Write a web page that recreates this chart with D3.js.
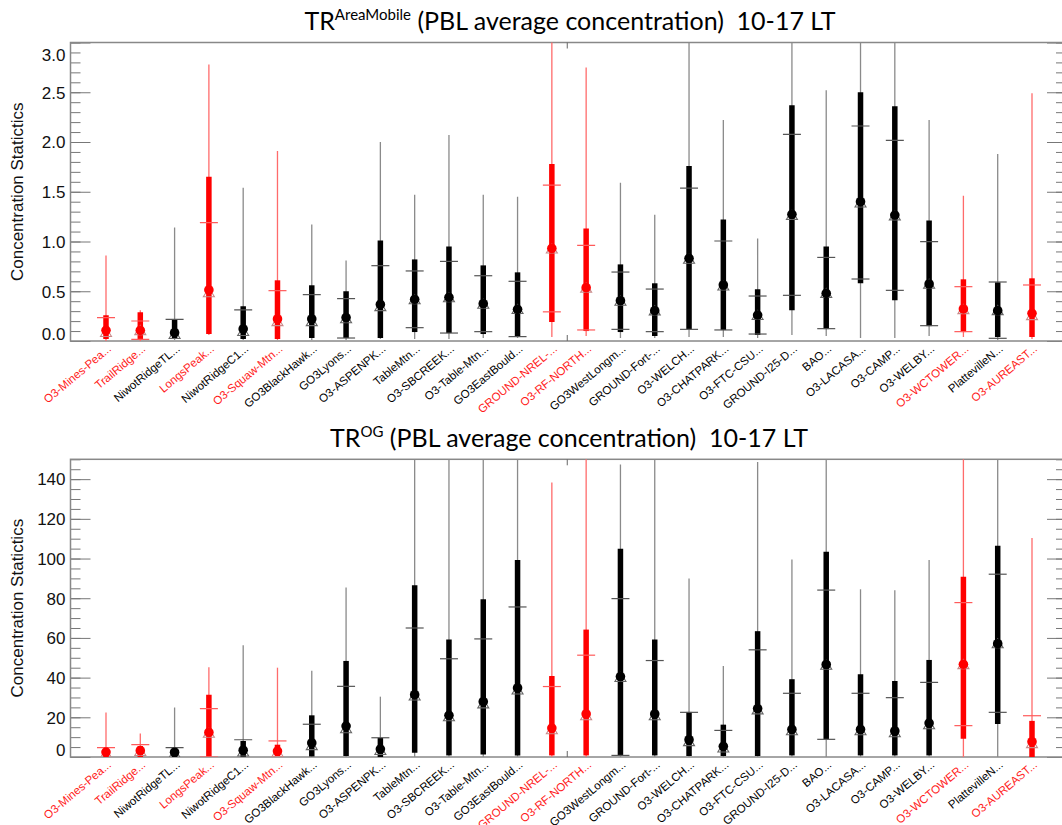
<!DOCTYPE html>
<html lang="en">
<head>
<meta charset="utf-8">
<title>TR PBL average concentration statistics</title>
<script src="https://d3js.org/d3.v7.min.js"></script>
<style>
  body { margin: 0; background: #fff; }
  svg { display: block; }
  .title { font-family: Lato, "Open Sans", sans-serif; font-size: 25px; fill: #000; white-space: pre; }
  .ylab { font-family: "Liberation Sans", Arial, sans-serif; font-size: 17px; fill: #111; }
  .xlab { font-family: "Liberation Sans", Arial, sans-serif; font-size: 11.5px; }
</style>
</head>
<body>
<div id="chart"></div>
<script>
// station labels as printed under the axis (truncated)
var stations = ["O3-Mines-Pea...", "TrailRidge...", "NiwotRidgeTL...", "LongsPeak...", "NiwotRidgeC1...",
  "O3-Squaw-Mtn...", "GO3BlackHawk...", "GO3Lyons...", "O3-ASPENPK...", "TableMtn...", "O3-SBCREEK...",
  "O3-Table-Mtn...", "GO3EastBould...", "GROUND-NREL-...", "O3-RF-NORTH...", "GO3WestLongm...",
  "GROUND-Fort-...", "O3-WELCH...", "O3-CHATPARK...", "O3-FTC-CSU...", "GROUND-I25-D...", "BAO...",
  "O3-LACASA...", "O3-CAMP...", "O3-WELBY...", "O3-WCTOWER...", "PlattevilleN...", "O3-AUREAST..."];

// stations drawn in red
var redStations = ["O3-Mines-Pea...", "TrailRidge...", "LongsPeak...", "O3-Squaw-Mtn...",
  "GROUND-NREL-...", "O3-RF-NORTH...", "O3-WCTOWER...", "O3-AUREAST..."];

// TR AreaMobile panel
var amMax    = [0.86, 0.31, 1.14, 2.78, 1.54, 1.91, 1.17, 0.81, 2.00, 1.47, 2.07, 1.47, 1.45, 3.50, 2.75, 1.59, 1.27, 3.50, 2.22, 1.03, 3.50, 2.52, 3.50, 3.50, 2.22, 1.46, 1.88, 2.49];
var amMin    = [0.00, 0.00, 0.01, 0.06, 0.01, 0.01, 0.01, 0.01, 0.02, 0.02, 0.02, 0.03, 0.03, 0.04, 0.05, 0.03, 0.03, 0.04, 0.04, 0.03, 0.06, 0.05, 0.03, 0.03, 0.05, 0.04, 0.01, 0.02];
var amLo     = [0.02, 0.01, 0.02, 0.07, 0.02, 0.02, 0.03, 0.03, 0.03, 0.09, 0.08, 0.07, 0.05, 0.19, 0.10, 0.09, 0.05, 0.12, 0.11, 0.06, 0.31, 0.12, 0.58, 0.41, 0.15, 0.09, 0.04, 0.04];
var amHi     = [0.26, 0.29, 0.22, 1.65, 0.35, 0.61, 0.56, 0.50, 1.01, 0.82, 0.95, 0.76, 0.69, 1.78, 1.13, 0.77, 0.58, 1.76, 1.22, 0.52, 2.37, 0.95, 2.50, 2.36, 1.21, 0.62, 0.59, 0.63];
var amMedian = [0.107, 0.107, 0.084, 0.513, 0.121, 0.221, 0.221, 0.235, 0.368, 0.419, 0.439, 0.375, 0.318, 0.931, 0.536, 0.405, 0.305, 0.831, 0.563, 0.261, 1.273, 0.479, 1.400, 1.266, 0.573, 0.322, 0.305, 0.278];
var amMean   = [0.090, 0.109, 0.070, 0.490, 0.100, 0.200, 0.200, 0.228, 0.350, 0.419, 0.440, 0.375, 0.322, 0.930, 0.536, 0.405, 0.308, 0.827, 0.558, 0.261, 1.268, 0.482, 1.392, 1.263, 0.576, 0.320, 0.310, 0.260];
var amSd     = [0.145, 0.092, 0.148, 0.700, 0.212, 0.306, 0.266, 0.198, 0.407, 0.285, 0.360, 0.281, 0.278, 0.637, 0.425, 0.288, 0.214, 0.710, 0.447, 0.191, 0.809, 0.358, 0.769, 0.754, 0.422, 0.226, 0.283, 0.303];

// TR OG panel
var ogMax    = [22.4, 11.9, 24.9, 45.2, 56.3, 45.0, 43.4, 85.4, 30.4, 170, 170, 170, 170, 138.3, 170, 147.4, 170, 89.9, 45.9, 148.7, 99.5, 170, 84.5, 84.0, 99.2, 170, 170, 110.4];
var ogMin    = [0, 0, 0, 0, 0, 0, 0, 0, 0, 0, 0, 0, 0, 0, 0, 0, 0, 0, 0, 0, 0, 0, 0, 0, 0, 0, 0, 0];
var ogLo     = [0, 0, 0, 0.3, 0, 0, 0.3, 0.5, 0, 2.2, 0.8, 1.3, 0.8, 0.8, 0.8, 0.8, 0.8, 0.5, 0.5, 0.5, 0.8, 8.9, 0.8, 0.8, 0.8, 9.2, 16.6, 0];
var ogHi     = [4.2, 5.5, 4.2, 31.4, 8.1, 6.2, 21.0, 48.4, 9.6, 86.6, 59.2, 79.5, 99.3, 40.8, 64.2, 104.9, 59.2, 22.7, 16.3, 63.4, 39.2, 103.4, 41.7, 38.3, 48.9, 90.8, 106.4, 18.2];
var ogMedian = [2.5, 3.2, 2.4, 12.4, 3.4, 3.0, 7.1, 15.6, 4.0, 31.4, 21.0, 27.9, 34.8, 14.6, 21.7, 40.5, 21.7, 8.7, 5.4, 24.4, 13.9, 46.6, 13.9, 13.1, 17.1, 46.7, 57.1, 7.7];
var ogMean   = [2.0, 3.0, 2.0, 12.2, 2.8, 2.5, 6.0, 14.5, 3.5, 31.0, 20.5, 27.0, 34.0, 14.0, 21.0, 40.3, 21.0, 8.0, 4.8, 24.0, 13.5, 46.5, 13.5, 12.5, 16.5, 46.8, 57.3, 7.0];
var ogSd     = [2.7, 3.2, 2.7, 12.2, 5.9, 5.6, 10.5, 21.1, 6.2, 34.0, 29.0, 32.5, 41.6, 21.5, 30.3, 39.5, 27.6, 14.5, 8.6, 30.0, 18.6, 37.6, 18.6, 17.4, 21.1, 31.0, 34.8, 13.8];

var W = 1062, H = 825;
var frameLeft = 70.5, frameRight = 1064;

var svg = d3.select("#chart")
  .append("svg")
    .attr("width", W)
    .attr("height", H);

var x = d3.scalePoint()
  .domain(stations)
  .range([106, 1032]);

function isRed(s) { return redStations.indexOf(s) >= 0; }

function greyTicks(g) {
  g.select(".domain").remove();
  g.selectAll("line").attr("stroke", "#777");
}

function drawPanel(p) {
  var y = d3.scaleLinear().domain(p.domain).range([p.bottom, p.top]);

  var rows = stations.map(function(s, i) {
    return {name: s, max: p.max[i], min: p.min[i], lo: p.lo[i], hi: p.hi[i],
            med: p.median[i], mean: p.mean[i], sd: p.sd[i], red: isRed(s)};
  });

  // title with superscript
  var t = svg.append("text")
    .attr("class", "title")
    .attr("x", p.titleX)
    .attr("y", p.titleY)
    .attr("text-anchor", "middle");
  t.append("tspan").text("TR");
  t.append("tspan").attr("font-size", 15).attr("dy", -10).text(p.sup);
  t.append("tspan").attr("dy", 10).text(" (PBL average concentration)  10-17 LT");

  // y label
  svg.append("text")
    .attr("class", "ylab")
    .attr("text-anchor", "middle")
    .attr("transform", "translate(23," + ((p.top + p.bottom) / 2) + ") rotate(-90)")
    .text("Concentration Statictics");

  var majors = d3.range(0, Math.floor(p.domain[1] / p.major + 1e-6) + 1).map(function(k) { return +(k * p.major).toFixed(3); });
  var minors = d3.range(0, Math.floor(p.domain[1] / p.minor + 1e-6) + 1).map(function(k) { return +(k * p.minor).toFixed(3); });

  // inward ticks, left and right
  svg.append("g")
    .attr("transform", "translate(" + frameLeft + ",0)")
    .call(d3.axisRight(y).tickValues(minors).tickSize(10).tickFormat(""))
    .call(greyTicks);
  svg.append("g")
    .attr("transform", "translate(" + frameLeft + ",0)")
    .call(d3.axisRight(y).tickValues(majors).tickSize(20).tickFormat(""))
    .call(greyTicks);
  svg.append("g")
    .attr("transform", "translate(" + frameRight + ",0)")
    .call(d3.axisLeft(y).tickValues(minors).tickSize(8).tickFormat(""))
    .call(greyTicks);
  svg.append("g")
    .attr("transform", "translate(" + frameRight + ",0)")
    .call(d3.axisLeft(y).tickValues(majors).tickSize(17).tickFormat(""))
    .call(greyTicks);

  // tick labels, end labels pulled inside the frame
  svg.append("g")
    .attr("transform", "translate(" + frameLeft + ",0)")
    .call(d3.axisLeft(y).tickValues(p.labels).tickSize(0).tickPadding(5).tickFormat(p.fmt))
    .call(function(g) {
      g.select(".domain").remove();
      g.selectAll("text")
        .attr("font-family", "'Liberation Sans', Arial, sans-serif")
        .attr("font-size", 17)
        .attr("fill", "#111")
        .attr("dy", function(v) { return v === p.domain[1] ? "1.05em" : v === p.domain[0] ? "-0.07em" : "0.34em"; });
    });

  // frame (right edge lies just off the page)
  svg.append("rect")
    .attr("x", frameLeft).attr("y", p.top)
    .attr("width", frameRight - frameLeft).attr("height", p.bottom - p.top)
    .attr("fill", "none").attr("stroke", "#888").attr("stroke-width", 1.5);

  // the single centre tick on the x axis
  var midX = (frameLeft + frameRight) / 2;
  svg.append("line").attr("x1", midX).attr("x2", midX).attr("y1", p.top).attr("y2", p.top + 6).attr("stroke", "#666");
  svg.append("line").attr("x1", midX).attr("x2", midX).attr("y1", p.bottom).attr("y2", p.bottom - 6).attr("stroke", "#666");

  var clipId = "clip" + p.id;
  svg.append("clipPath").attr("id", clipId)
    .append("rect")
      .attr("x", frameLeft).attr("y", p.top)
      .attr("width", frameRight - frameLeft).attr("height", p.bottom - p.top);

  var g = svg.append("g").attr("clip-path", "url(#" + clipId + ")");

  var st = g.selectAll(".st")
    .data(rows)
    .enter()
    .append("g")
      .attr("class", "st")
      .attr("transform", function(d) { return "translate(" + x(d.name) + ",0)"; });

  // thin range line
  st.append("line")
    .attr("y1", function(d) { return y(d.min); })
    .attr("y2", function(d) { return y(d.max); })
    .attr("stroke", function(d) { return d.red ? "#ff6b6b" : "#8a8a8a"; })
    .attr("stroke-width", 1.3);

  // thick inner range
  st.append("line")
    .attr("y1", function(d) { return y(d.lo); })
    .attr("y2", function(d) { return y(d.hi); })
    .attr("stroke", function(d) { return d.red ? "#ff0000" : "#000"; })
    .attr("stroke-width", 5.5);

  // mean +/- sd ticks
  st.selectAll(".sdt")
    .data(function(d) {
      return [d.mean + d.sd, d.mean - d.sd]
        .filter(function(v) { return v >= p.domain[0]; })
        .map(function(v) { return {v: v, red: d.red}; });
    })
    .enter()
    .append("line")
      .attr("x1", -9).attr("x2", 9)
      .attr("y1", function(e) { return y(e.v); })
      .attr("y2", function(e) { return y(e.v); })
      .attr("stroke", function(e) { return e.red ? "#ff5a5a" : "#555"; })
      .attr("stroke-width", 1.2);

  // mean triangle
  st.append("path")
    .attr("d", "M0,-4.5L5.5,4.5L-5.5,4.5Z")
    .attr("transform", function(d) { return "translate(0," + (y(d.mean)) + ")"; })
    .attr("fill", "none")
    .attr("stroke", function(d) { return d.red ? "#c98a8a" : "#666"; })
    .attr("stroke-width", 1.1);

  // median dot
  st.append("circle")
    .attr("cy", function(d) { return y(d.med); })
    .attr("r", 4.8)
    .attr("fill", function(d) { return d.red ? "#ff0000" : "#000"; });

  // station labels
  svg.append("g")
    .selectAll("text")
    .data(rows)
    .enter()
    .append("text")
      .attr("class", "xlab")
      .attr("text-anchor", "end")
      .attr("transform", function(d) { return "translate(" + (x(d.name) + 6) + "," + (p.bottom + 9) + ") rotate(-40)"; })
      .attr("fill", function(d) { return d.red ? "#ff1a1a" : "#000"; })
      .text(function(d) { return d.name; });
}

drawPanel({
  id: "am", top: 42.5, bottom: 341, domain: [0, 3], major: 0.5, minor: 0.1,
  labels: [0, 0.5, 1, 1.5, 2, 2.5, 3], fmt: d3.format(".1f"),
  titleX: 570, titleY: 30, sup: "AreaMobile",
  max: amMax, min: amMin, lo: amLo, hi: amHi, median: amMedian, mean: amMean, sd: amSd
});

drawPanel({
  id: "og", top: 459.3, bottom: 757, domain: [0, 150], major: 20, minor: 5,
  labels: [0, 20, 40, 60, 80, 100, 120, 140], fmt: d3.format("d"),
  titleX: 569, titleY: 447, sup: "OG",
  max: ogMax, min: ogMin, lo: ogLo, hi: ogHi, median: ogMedian, mean: ogMean, sd: ogSd
});
</script>
</body>
</html>
